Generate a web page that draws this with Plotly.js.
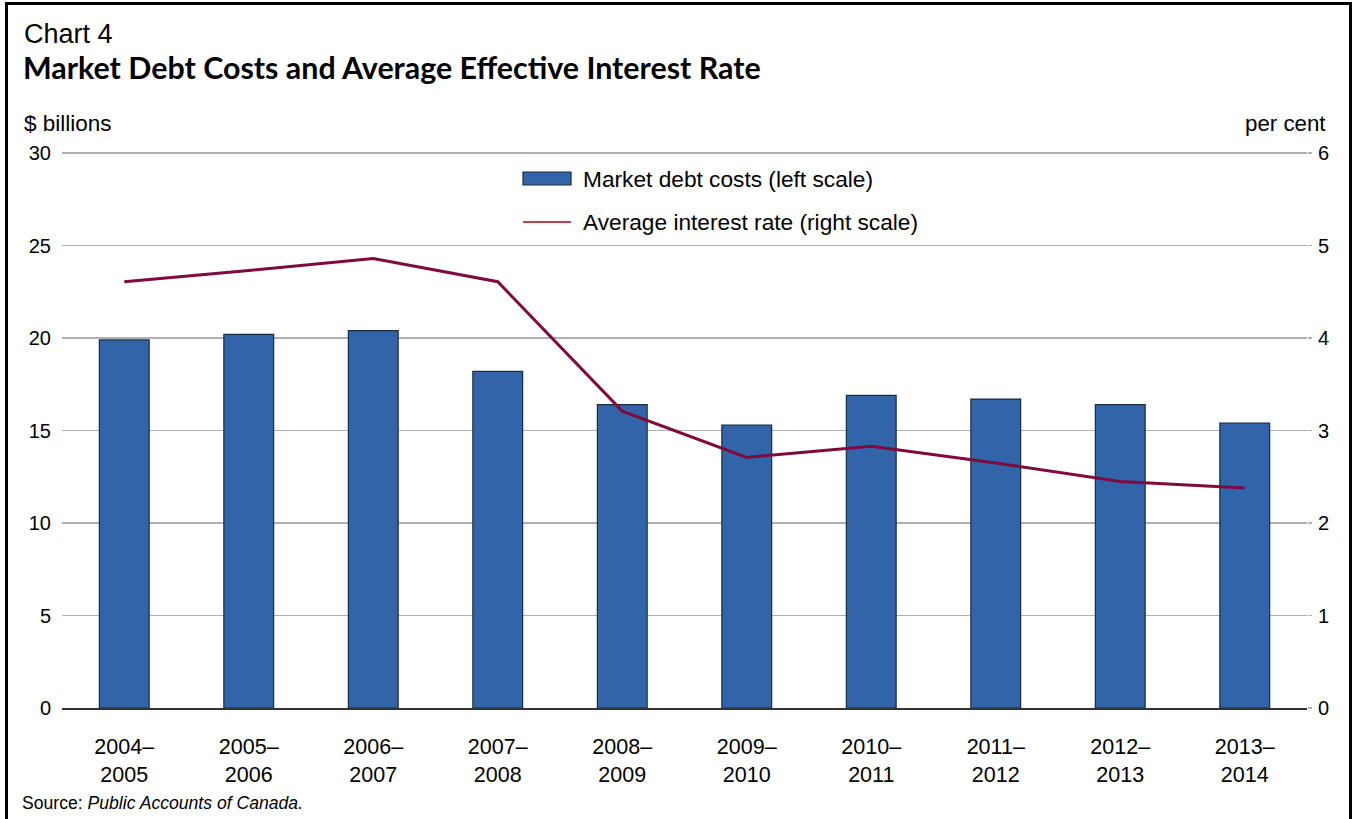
<!DOCTYPE html>
<html>
<head>
<meta charset="utf-8">
<script src="https://cdn.plot.ly/plotly-3.0.1.min.js"></script>
<style>
  html, body { margin: 0; padding: 0; background: #ffffff; overflow: hidden; }
  #frame { position: absolute; left: 5px; top: 2px; width: 1341px; height: 900px; border: 3px solid #000; box-sizing: content-box; }
  #chart { position: absolute; left: 0; top: 0; width: 1354px; height: 819px; }
</style>
</head>
<body>
<div id="frame"></div>
<div id="chart"></div>
<script>
// ---- Data ----
const categories = ['2004–2005','2005–2006','2006–2007','2007–2008','2008–2009','2009–2010','2010–2011','2011–2012','2012–2013','2013–2014'];
const tickLabels = ['2004–<br>2005','2005–<br>2006','2006–<br>2007','2007–<br>2008','2008–<br>2009','2009–<br>2010','2010–<br>2011','2011–<br>2012','2012–<br>2013','2013–<br>2014'];
const marketDebtCosts = [19.9, 20.2, 20.4, 18.2, 16.4, 15.3, 16.9, 16.7, 16.4, 15.4];
const averageInterestRate = [4.61, 4.73, 4.86, 4.61, 3.21, 2.71, 2.83, 2.65, 2.45, 2.38];
const leftTicks = [0, 5, 10, 15, 20, 25, 30];
const rightTicks = [0, 1, 2, 3, 4, 5, 6];
const seriesNames = ['Market debt costs (left scale)', 'Average interest rate (right scale)'];

// ---- Styles ----
const BAR_COLOR = '#3264aa';
const BAR_LINE = '#1c2b3f';
const LINE_COLOR = '#800a3c';
const LEGEND_LINE = '#c0404f';
const GRID = '#b0b0b0';
const FONT = 'Liberation Sans, Arial, sans-serif';

const traces = [
  {
    type: 'bar', x: categories, y: marketDebtCosts, name: seriesNames[0],
    marker: { color: BAR_COLOR, line: { color: BAR_LINE, width: 1.2 } },
    yaxis: 'y', hoverinfo: 'x+y'
  },
  {
    type: 'scatter', mode: 'lines', x: categories, y: averageInterestRate, name: seriesNames[1],
    line: { color: LINE_COLOR, width: 3 },
    yaxis: 'y2', hoverinfo: 'x+y'
  }
];

// plot area in pixels: left 62, right 1307, top 153, bottom 708
const L = 62, R = 1307, T = 152, B = 708;
const px = x => (x - L) / (R - L);
const py = y => (B - y) / (B - T);

const layout = {
  width: 1354, height: 819,
  margin: { l: L, r: 1354 - R, t: T, b: 819 - B, pad: 0 },
  paper_bgcolor: 'rgba(0,0,0,0)',
  plot_bgcolor: 'rgba(0,0,0,0)',
  showlegend: false,
  bargap: 0.6,
  font: { family: FONT, color: '#000', size: 20 },
  title: {
    text: '<b>Market Debt Costs and Average Effective Interest Rate</b>',
    font: { family: 'Lato, Carlito, Calibri, sans-serif', size: 30.4, color: '#000' },
    x: 23 / 1354, xanchor: 'left', xref: 'container',
    y: 1 - 68 / 819, yanchor: 'middle', yref: 'container'
  },
  xaxis: {
    type: 'category',
    tickvals: categories, ticktext: tickLabels,
    tickfont: { family: FONT, size: 21.5, color: '#000' },
    showgrid: false, zeroline: false,
    showline: true, linecolor: '#333333', linewidth: 2,
    ticks: '', ticklabelstandoff: 18,
    fixedrange: true
  },
  yaxis: {
    range: [0, 30.06], tickvals: leftTicks,
    tickfont: { family: FONT, size: 20, color: '#000' },
    showgrid: true, gridcolor: GRID, gridwidth: 1.5,
    zeroline: false, showline: false,
    ticks: '', ticklabelstandoff: 10,
    fixedrange: true
  },
  yaxis2: {
    range: [0, 6.012], tickvals: rightTicks,
    overlaying: 'y', side: 'right',
    tickfont: { family: FONT, size: 20, color: '#000' },
    showgrid: false, zeroline: false, showline: false,
    ticks: 'outside', ticklen: 4, tickcolor: GRID, tickwidth: 1.5,
    ticklabelstandoff: 2,
    fixedrange: true
  },
  shapes: [
    { type: 'rect', xref: 'paper', yref: 'paper', x0: px(523), x1: px(571), y0: py(185), y1: py(172),
      fillcolor: BAR_COLOR, line: { color: BAR_LINE, width: 1.2 } },
    { type: 'line', xref: 'paper', yref: 'paper', x0: px(523), x1: px(571), y0: py(222), y1: py(222),
      line: { color: LEGEND_LINE, width: 2 } }
  ],
  annotations: [
    { text: 'Chart 4', xref: 'paper', yref: 'paper', x: px(22), y: py(34), xanchor: 'left', yanchor: 'middle',
      showarrow: false, font: { family: FONT, size: 27, color: '#000' } },
    { text: '$ billions', xref: 'paper', yref: 'paper', x: px(22), y: py(123), xanchor: 'left', yanchor: 'middle',
      showarrow: false, font: { family: FONT, size: 22.5, color: '#000' } },
    { text: 'per cent', xref: 'paper', yref: 'paper', x: px(1328), y: py(123), xanchor: 'right', yanchor: 'middle',
      showarrow: false, font: { family: FONT, size: 22.3, color: '#000' } },
    { text: seriesNames[0], xref: 'paper', yref: 'paper', x: px(581), y: py(179), xanchor: 'left', yanchor: 'middle',
      showarrow: false, font: { family: FONT, size: 22.7, color: '#000' } },
    { text: seriesNames[1], xref: 'paper', yref: 'paper', x: px(581), y: py(222), xanchor: 'left', yanchor: 'middle',
      showarrow: false, font: { family: FONT, size: 22.7, color: '#000' } },
    { text: 'Source: <i>Public Accounts of Canada.</i>', xref: 'paper', yref: 'paper', x: px(20), y: py(803),
      xanchor: 'left', yanchor: 'middle', showarrow: false, font: { family: FONT, size: 17.6, color: '#000' } }
  ]
};

Plotly.newPlot('chart', traces, layout, { displayModeBar: false, staticPlot: true });
</script>
</body>
</html>
